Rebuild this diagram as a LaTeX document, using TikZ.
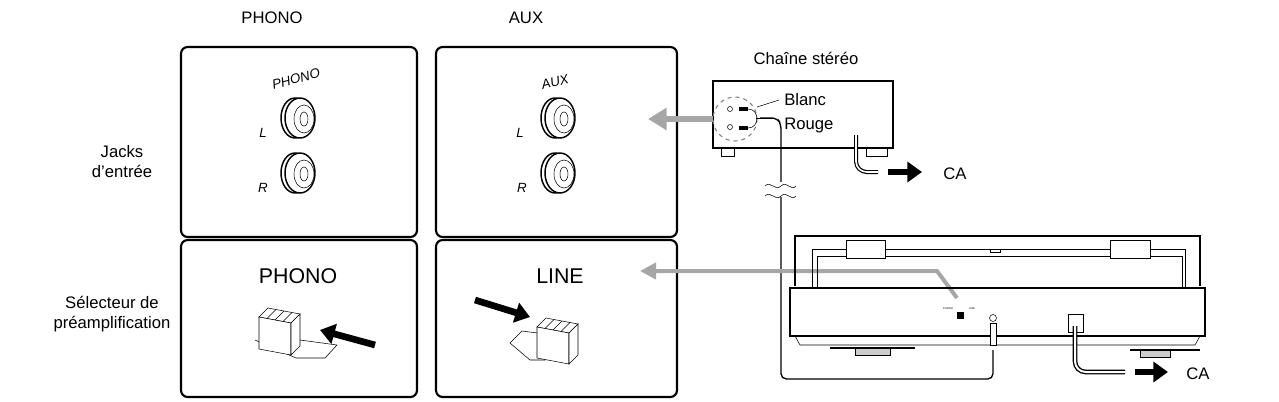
\documentclass[tikz,border=0pt]{standalone}
\usepackage{fontspec}
\setmainfont{Liberation Sans}
\usetikzlibrary{arrows.meta,calc}
\begin{document}
\begin{tikzpicture}[x=0.75pt,y=-0.75pt,
  panel/.style={draw,line width=1.6pt,rounded corners=5pt},
  lbl/.style={font=\fontsize{12.5}{15}\selectfont,inner sep=0pt},
  big/.style={font=\fontsize{16}{17}\selectfont,inner sep=0pt},
  tiny/.style={font=\itshape\fontsize{10}{11}\selectfont,inner sep=0pt},
  grayarrow/.style={draw=gray!70,line width=5pt,-{Triangle[length=14pt,width=16pt]}},
  grayline/.style={draw=gray!70,line width=3pt},
  blackarrow/.style={line width=5pt,-{Triangle[length=11pt,width=15pt]}},
  thick1/.style={line width=1.1pt}]
\useasboundingbox (0,0) rectangle (1279,401);
% labels
\node[lbl] (tphono) at (272,18) {PHONO};
\node[lbl] (taux) at (526,18) {AUX};
\node[lbl,align=center] (tjacks) at (122,162) {Jacks\\d'entrée};
\node[lbl,align=center] (tsel) at (112,314) {Sélecteur de\\préamplification};
% panels
\draw[panel] (181,47) rectangle (417,237);
\draw[panel] (181,240) rectangle (417,397);
\draw[panel] (436,47) rectangle (677,237);
\draw[panel] (436,240) rectangle (677,397);
% jacks
\foreach \cx/\cy in {300/118,300/173,560/118,560/173}{
  \draw[thick1] (\cx-5,\cy) circle[x radius=14,y radius=20];
  \draw[thick1,fill=white] (\cx,\cy) circle[x radius=15,y radius=20];
  \draw (\cx+4,\cy+1) circle[x radius=10,y radius=14];
  \draw (\cx+4,\cy+1) circle[x radius=4,y radius=7];
}
\node[tiny,rotate=15] (pj) at (296,79) {PHONO};
\node[tiny,rotate=15] (aj) at (555,82) {AUX};
\node[tiny] (pl) at (263,133) {L};
\node[tiny] (pr) at (263,188) {R};
\node[tiny] (al) at (520,133) {L};
\node[tiny] (ar) at (522,188) {R};
% selector panels
\node[big] (sphono) at (298,276) {PHONO};
\node[big] (sline) at (560,276) {LINE};
% PHONO switch
\draw (255,340) -- (296,358) -- (325,358) -- (337,345) -- (300,340);
\draw[fill=white] (259,317) -- (268,308) -- (300,314) -- (291,323) -- cycle;
\draw[fill=white] (259,317) -- (291,323) -- (291,355) -- (259,349) -- cycle;
\draw[fill=white] (291,323) -- (300,314) -- (300,346) -- (291,355) -- cycle;
\foreach \t in {0.25,0.5,0.75}{\draw ($(259,317)!\t!(291,323)$) -- ++(9,-9);}
\draw[blackarrow] (375,345) -- (320,330);
% LINE switch
\draw (510,343) -- (522,331) -- (545,334) -- (545,360) -- (530,360) -- cycle;
\draw[fill=white] (537,327) -- (546,318) -- (578,324) -- (569,333) -- cycle;
\draw[fill=white] (537,327) -- (569,333) -- (569,364) -- (537,358) -- cycle;
\draw[fill=white] (569,333) -- (578,324) -- (578,355) -- (569,364) -- cycle;
\foreach \t in {0.25,0.5,0.75}{\draw ($(537,327)!\t!(569,333)$) -- ++(9,-9);}
\draw[blackarrow] (475,300) -- (530,317);
% stereo
\node[lbl] (chaine) at (806,58) {Chaîne stéréo};
\draw[line width=1pt] (713,81) rectangle (893,148);
\draw (721,148) rectangle (734,156);
\draw (866,148) rectangle (887,156);
\draw[gray,dashed,thick] (735,119) circle (22);
\draw (730,109) circle (2.5);
\draw (730,127) circle (2.5);
\draw[line width=3pt] (739,109) -- (748,109);
\draw[line width=3pt] (739,128) -- (748,128);
\draw (748,109) .. controls (760,109) and (760,128) .. (748,128);
\draw (756,118) -- (773,118);
\draw (757,107) -- (779,100);
\node[lbl,anchor=west] (blanc) at (784,100) {Blanc};
\node[lbl,anchor=west] (rouge) at (784,125) {Rouge};
% cable
\coordinate (cab1) at (760,118);
\coordinate (plug) at (993,350);
\draw[line width=1pt,rounded corners=4pt] (cab1) -- (777,118) -- (781,124) -- (781,379) -- (993,379) -- (plug);
\fill[white] (775,182) rectangle (788,197);
\draw (765,186) .. controls (771,180) and (775,192) .. (781,186) .. controls (787,180) and (791,192) .. (796,186);
\draw (765,196) .. controls (771,190) and (775,202) .. (781,196) .. controls (787,190) and (791,202) .. (796,196);
% stereo power
\draw[line width=3pt,rounded corners=8pt] (856,135) -- (856,172) -- (878,172);
\draw[line width=1.2pt,white,rounded corners=8pt] (856,135) -- (856,172) -- (878,172);
\draw[blackarrow] (888,172) -- (922,172);
\node[lbl] (ca1) at (955,174) {CA};
% gray arrows
\draw[grayarrow] (713,119) -- (648,119);
\draw[grayline,-{Triangle[length=12pt,width=12pt]}] (957,298) -- (937,271) -- (640,271);
% turntable
\draw[line width=1.2pt] (795,286) -- (795,236) -- (1200,236) -- (1200,286);
\draw (812,288) -- (812,249) -- (1185,249) -- (1185,288);
\draw (817,288) -- (817,256) -- (1182,256) -- (1182,288);
\draw[fill=white] (846,240) rectangle (885,258);
\draw[fill=white] (1110,240) rectangle (1150,258);
\draw[fill=white] (990,249) rectangle (1000,252);
\draw[line width=1.5pt] (790,288) rectangle (1205,336);
\draw (795,336) -- (800,345) -- (1195,345) -- (1200,336);
\draw[line width=2pt] (830,348) -- (915,348);
\draw[line width=2pt] (1130,350) -- (1200,350);
\draw[fill=gray!40] (855,348) rectangle (890,355);
\draw[fill=gray!40] (1140,350) rectangle (1170,357);
\node[font=\fontsize{2}{2}\selectfont,inner sep=0] (swl) at (948,309) {PHONO};
\node[font=\fontsize{2}{2}\selectfont,inner sep=0] (swr) at (972,309) {LINE};
\draw[fill=black] (957,312) rectangle (963,318);
\draw (993,318) circle (3.5);
\draw[fill=white] (990,323) rectangle (996,345);
\draw[fill=white] (1068,314) rectangle (1083,332);
% turntable power
\draw[line width=3.5pt,rounded corners=8pt] (1075,326) -- (1075,372) -- (1125,372);
\draw[line width=1.5pt,white,rounded corners=8pt] (1075,326) -- (1075,372) -- (1125,372);
\draw[blackarrow] (1135,372) -- (1168,372);
\node[lbl] (ca2) at (1198,374) {CA};
\end{tikzpicture}
\end{document}
